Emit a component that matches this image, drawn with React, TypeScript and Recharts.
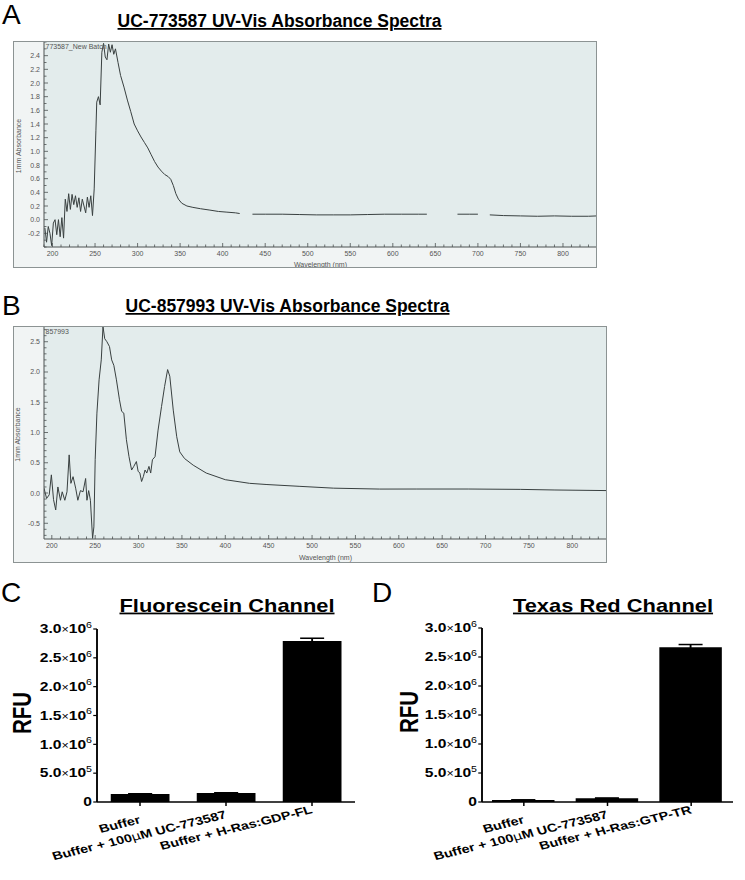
import { Bar, BarChart, CartesianGrid, ErrorBar, Line, LineChart, XAxis, YAxis } from "recharts";

const FONT = '"Liberation Sans", Arial, Helvetica, sans-serif';

// Panel A: UC-773587 absorbance spectrum (null = gap in the trace)
const specAWavelength = [
  191, 193, 195, 197, 199, 201, 203, 205, 207, 209, 211, 213, 215, 217, 219, 221, 223, 225, 227, 229,
  231, 233, 235, 237, 239, 241, 243, 245, 247, 249, 251, 252, 254, 256, 258, 260, 262, 264, 266, 268,
  270, 272, 274, 277, 280, 284, 288, 292, 296, 300, 304, 308, 312, 316, 320, 324, 328, 332, 336, 339,
  342, 345, 348, 352, 358, 365, 374, 385, 395, 405, 415, 420, 421, 435, 450, 470, 490, 510, 530, 550,
  570, 590, 610, 630, 640, 641, 676, 690, 700, 701, 714, 730, 750, 770, 790, 810, 830, 840,
];
const specAAbsorbance = [
  -0.12, -0.33, -0.1, -0.2, -0.38, -0.05, 0.0, -0.22, 0.0, -0.25, 0.03, -0.27, 0.3, 0.12, 0.38, 0.15, 0.37, 0.22, 0.35, 0.18,
  0.32, 0.12, 0.3, 0.2, 0.1, 0.33, 0.18, 0.35, 0.06, 0.45, 1.3, 1.72, 1.8, 1.68, 2.45, 2.58, 2.38, 2.34, 2.57, 2.45,
  2.56, 2.42, 2.5, 2.3, 2.11, 1.94, 1.75, 1.58, 1.4, 1.3, 1.21, 1.13, 1.05, 0.95, 0.85, 0.77, 0.71, 0.66, 0.63, 0.59,
  0.5, 0.38, 0.3, 0.24, 0.2, 0.18, 0.16, 0.14, 0.12, 0.11, 0.1, 0.09, null, 0.08, 0.08, 0.08, 0.075, 0.07, 0.07, 0.07,
  0.075, 0.08, 0.08, 0.08, 0.08, null, 0.08, 0.08, 0.08, null, 0.07, 0.06, 0.055, 0.05, 0.055, 0.05, 0.05, 0.055,
];

// Panel B: UC-857993 absorbance spectrum
const specBWavelength = [
  191, 194, 197, 199.5, 202, 204.5, 207, 210, 212, 215, 217.5, 220, 222, 224.5, 227.5, 230, 233, 236, 239, 240.5,
  242.5, 244.5, 247, 248.5, 250, 252, 254.5, 257, 259, 261, 263.5, 266.5, 269, 271.5, 274.5, 278, 280.5, 283, 286, 289,
  292, 294.5, 297.5, 299.5, 301.5, 303.5, 305.5, 307.5, 309.5, 312, 314, 316, 319, 322.5, 326.5, 330, 333.5, 336, 340, 344,
  347.5, 353, 363, 378, 400, 428, 448, 486, 525, 578, 620, 680, 740, 780, 840,
];
const specBAbsorbance = [
  0.08, -0.09, -0.03, 0.3, -0.11, -0.28, 0.1, -0.12, 0.02, -0.12, 0.02, 0.63, 0.16, 0.27, 0.08, -0.12, 0.04, 0.02, 0.24, -0.12,
  0.04, -0.12, -0.75, -0.56, 0.55, 1.32, 1.87, 2.2, 2.75, 2.55, 2.5, 2.42, 2.2, 2.11, 1.87, 1.54, 1.35, 1.32, 0.88, 0.6,
  0.38, 0.44, 0.52, 0.36, 0.33, 0.19, 0.27, 0.38, 0.33, 0.44, 0.33, 0.55, 0.6, 1.04, 1.43, 1.76, 2.04, 1.93, 1.37, 0.93,
  0.68, 0.57, 0.46, 0.33, 0.22, 0.16, 0.14, 0.11, 0.08, 0.065, 0.066, 0.066, 0.06, 0.05, 0.04,
];

const wavelengthLabels = [200, 250, 300, 350, 400, 450, 500, 550, 600, 650, 700, 750, 800];
const specAYLabels = [-0.2, 0, 0.2, 0.4, 0.6, 0.8, 1.0, 1.2, 1.4, 1.6, 1.8, 2.0, 2.2, 2.4];
const specBYLabels = [-0.5, 0, 0.5, 1.0, 1.5, 2.0, 2.5];

// Panels C / D: plate reader bars
const fluoresceinGroups = ["Buffer", "Buffer + 100μM UC-773587", "Buffer + H-Ras:GDP-FL"];
const fluoresceinRfu = [139000, 156000, 2790000];
const fluoresceinSem = [4000, 4000, 50000];
const texasRedGroups = ["Buffer", "Buffer + 100μM UC-773587", "Buffer + H-Ras:GTP-TR"];
const texasRedRfu = [35000, 65000, 2670000];
const texasRedSem = [2000, 3000, 45000];
const rfuTicks = [0, 500000, 1000000, 1500000, 2000000, 2500000, 3000000];
const rfuTickLabels = ["0", "5.0×10^5", "1.0×10^6", "1.5×10^6", "2.0×10^6", "2.5×10^6", "3.0×10^6"];

const near = (list: number[], v: number) => list.some((m) => Math.abs(m - v) < 1e-6);

interface SpectrumProps {
  left: number;
  top: number;
  width: number;
  height: number;
  axisHeight: number;
  marginTop: number;
  wavelength: number[];
  absorbance: (number | null)[];
  xDomain: [number, number];
  yDomain: [number, number];
  yLabels: number[];
  labelOffset: number;
}

function SpectrumPanel(p: SpectrumProps) {
  const data = p.wavelength.map((wl, i) => ({ wl, abs: p.absorbance[i] }));
  // unlabelled minor ticks every 10 nm / 0.1 AU
  const xTicks: number[] = [];
  for (let v = 190; v <= 840; v += 10) if (v >= p.xDomain[0] && v <= p.xDomain[1]) xTicks.push(v);
  const yTicks: number[] = [];
  for (let k = -10; k <= 30; k++) {
    const v = Math.round(k * 10) / 100;
    if (v >= p.yDomain[0] && v <= p.yDomain[1]) yTicks.push(v);
  }

  return (
    <div style={{ position: "absolute", left: p.left, top: p.top, width: p.width, height: p.height, background: "#f1f4f4" }}>
      <LineChart width={p.width} height={p.height} data={data} margin={{ top: p.marginTop, right: 0, bottom: 0, left: 0 }}>
        <CartesianGrid horizontal={false} vertical={false} fill="#e3ecec" />
        <XAxis
          dataKey="wl"
          type="number"
          domain={p.xDomain}
          ticks={xTicks}
          interval={0}
          allowDataOverflow
          height={p.axisHeight}
          tickLine={false}
          tickSize={0}
          tickMargin={0}
          axisLine={{ stroke: "#4d5252" }}
          tick={(t: any) => {
            const major = near(wavelengthLabels, t.payload.value);
            return (
              <g>
                <line x1={t.x} x2={t.x} y1={t.y} y2={t.y - (major ? 4 : 2.5)} stroke="#4d5252" strokeWidth={0.8} />
                {major && (
                  <text x={t.x} y={t.y + 8.5} textAnchor="middle" fontSize={7} fill="#555" fontFamily={FONT}>
                    {t.payload.value}
                  </text>
                )}
              </g>
            );
          }}
          label={{ value: "Wavelength (nm)", position: "insideBottom", offset: p.labelOffset, fontSize: 7, fill: "#555", fontFamily: FONT }}
        />
        <YAxis
          type="number"
          domain={p.yDomain}
          ticks={yTicks}
          interval={0}
          allowDataOverflow
          width={31}
          tickLine={false}
          tickSize={0}
          tickMargin={0}
          axisLine={{ stroke: "#4d5252" }}
          tick={(t: any) => {
            const major = near(p.yLabels, t.payload.value);
            return (
              <g>
                <line x1={t.x} x2={t.x + (major ? 4 : 2.5)} y1={t.y} y2={t.y} stroke="#4d5252" strokeWidth={0.8} />
                {major && (
                  <text x={t.x - 4} y={t.y + 2.5} textAnchor="end" fontSize={7} fill="#555" fontFamily={FONT}>
                    {Number(t.payload.value).toFixed(1)}
                  </text>
                )}
              </g>
            );
          }}
        />
        <Line type="linear" dataKey="abs" stroke="#394040" strokeWidth={1} dot={false} connectNulls={false} isAnimationActive={false} />
      </LineChart>
      <div style={{ position: "absolute", inset: 0, border: "1px solid #8c9393", pointerEvents: "none" }} />
    </div>
  );
}

function GroupLabel(name: string) {
  const parts = name.split("μ");
  if (parts.length < 2) return name;
  return (
    <>
      {parts[0]}
      <tspan fontWeight="normal" fontFamily='"DejaVu Sans", sans-serif'>μ</tspan>
      {parts[1]}
    </>
  );
}

interface RfuProps {
  left: number;
  width: number;
  axisX: number;
  plotRight: number;
  plotTop: number;
  barSize: number;
  rfuX: number;
  rfuY: number;
  groups: string[];
  values: number[];
  errors: number[];
}

// the bar panels are printed horizontally stretched in the figure
const STRETCH = 1.25;

function RfuPanel(p: RfuProps) {
  const data = p.groups.map((name, i) => ({ name, rfu: p.values[i], sem: p.errors[i] }));
  const w = p.width / STRETCH;
  return (
    <div
      style={{
        position: "absolute",
        left: p.left,
        top: 600,
        width: w,
        height: 280,
        transform: `scaleX(${STRETCH})`,
        transformOrigin: "0 0",
      }}
    >
      <BarChart
        width={w}
        height={280}
        data={data}
        barSize={p.barSize}
        margin={{ top: p.plotTop - 600, right: w - p.plotRight, bottom: 0, left: 0 }}
      >
        <XAxis
          dataKey="name"
          height={78}
          interval={0}
          axisLine={{ stroke: "#000", strokeWidth: 1.5 }}
          tickLine={{ stroke: "#000", strokeWidth: 1.2 }}
          tickSize={4}
          tickMargin={0}
          tick={(t: any) => {
            const lift = [17, 12, 7][t.index] ?? 12;
            return (
              <g transform={`translate(${t.x + 1}, ${t.y + lift}) rotate(-17)`}>
                <text x={0} y={0} textAnchor="end" fontSize={11.5} fontWeight="bold" fontFamily={FONT} fill="#000">
                  {GroupLabel(t.payload.value)}
                </text>
              </g>
            );
          }}
        />
        <YAxis
          type="number"
          domain={[0, 3000000]}
          ticks={rfuTicks}
          interval={0}
          width={p.axisX}
          axisLine={{ stroke: "#000", strokeWidth: 1.5 }}
          tickLine={{ stroke: "#000", strokeWidth: 1.2 }}
          tickSize={3}
          tickMargin={1}
          tick={(t: any) => {
            const label = rfuTickLabels[rfuTicks.indexOf(t.payload.value)] ?? String(t.payload.value);
            const [base, exp] = label.split("^");
            const mant = base.split("×")[0];
            return (
              <text x={t.x} y={t.y + 4.3} textAnchor="end" fontSize={12.5} fontWeight="bold" fontFamily={FONT} fill="#000">
                {exp ? (
                  <>
                    {mant}
                    <tspan fontWeight="normal" fontSize={10}>×</tspan>
                    10
                    <tspan dy={-5.5} fontSize={8.5} fontWeight="normal">{exp}</tspan>
                  </>
                ) : (
                  base
                )}
              </text>
            );
          }}
        />
        <Bar dataKey="rfu" fill="#000" isAnimationActive={false}>
          <ErrorBar dataKey="sem" width={9.6} stroke="#000" strokeWidth={1.5} direction="y" />
        </Bar>
      </BarChart>
      <svg width={w} height={280} style={{ position: "absolute", left: 0, top: 0, pointerEvents: "none" }}>
        <text
          transform={`translate(${p.rfuX} ${p.rfuY}) rotate(-90)`}
          textAnchor="middle"
          dominantBaseline="central"
          fontSize={20.5}
          fontWeight="bold"
          fontFamily={FONT}
        >
          RFU
        </text>
      </svg>
    </div>
  );
}

export default function App() {
  const title = { fontSize: 17.5, fontWeight: "bold" as const, fontFamily: FONT, textAnchor: "middle" as const, style: { textDecoration: "underline" } };
  const letter = { fontSize: 28, fontFamily: FONT, fill: "#000" };
  const small = { fontSize: 7, fontFamily: FONT, fill: "#555" };
  return (
    <div style={{ position: "absolute", left: 0, top: 0, width: 745, height: 880, background: "#fff", overflow: "hidden" }}>
      <SpectrumPanel
        left={13}
        top={41}
        width={584}
        height={227}
        axisHeight={21}
        marginTop={1}
        labelOffset={1}
        wavelength={specAWavelength}
        absorbance={specAAbsorbance}
        xDomain={[190, 840]}
        yDomain={[-0.4, 2.6]}
        yLabels={specAYLabels}
      />
      <SpectrumPanel
        left={13}
        top={326}
        width={594}
        height={237}
        axisHeight={24}
        marginTop={0}
        labelOffset={3}
        wavelength={specBWavelength}
        absorbance={specBAbsorbance}
        xDomain={[191, 840]}
        yDomain={[-0.76, 2.76]}
        yLabels={specBYLabels}
      />
      <RfuPanel
        left={0}
        width={370}
        axisX={77.6}
        plotRight={284}
        plotTop={629}
        barSize={47}
        rfuX={18}
        rfuY={113}
        groups={fluoresceinGroups}
        values={fluoresceinRfu}
        errors={fluoresceinSem}
      />
      <RfuPanel
        left={370}
        width={375}
        axisX={89.6}
        plotRight={290.4}
        plotTop={628}
        barSize={50}
        rfuX={31.2}
        rfuY={112}
        groups={texasRedGroups}
        values={texasRedRfu}
        errors={texasRedSem}
      />
      <svg width={745} height={880} style={{ position: "absolute", left: 0, top: 0, pointerEvents: "none" }}>
        <text x={2} y={23.5} {...letter}>A</text>
        <text x={2} y={315} {...letter}>B</text>
        <text x={1} y={602} {...letter}>C</text>
        <text x={372} y={602} {...letter}>D</text>

        <text x={279.5} y={27} {...title}>UC-773587 UV-Vis Absorbance Spectra</text>
        <text x={287.5} y={312} {...title}>UC-857993 UV-Vis Absorbance Spectra</text>
        <text transform="translate(227 611.7) scale(1.25 1)" {...title}>Fluorescein Channel</text>
        <text transform="translate(613 611.7) scale(1.25 1)" {...title}>Texas Red Channel</text>

        <text x={45.5} y={48.5} {...small}>773587_New Batch</text>
        <text x={45.5} y={334} {...small}>857993</text>
        <text transform="translate(20.5 146) rotate(-90)" textAnchor="middle" {...small}>1mm Absorbance</text>
        <text transform="translate(19.5 434.5) rotate(-90)" textAnchor="middle" {...small}>1mm Absorbance</text>
      </svg>
    </div>
  );
}
